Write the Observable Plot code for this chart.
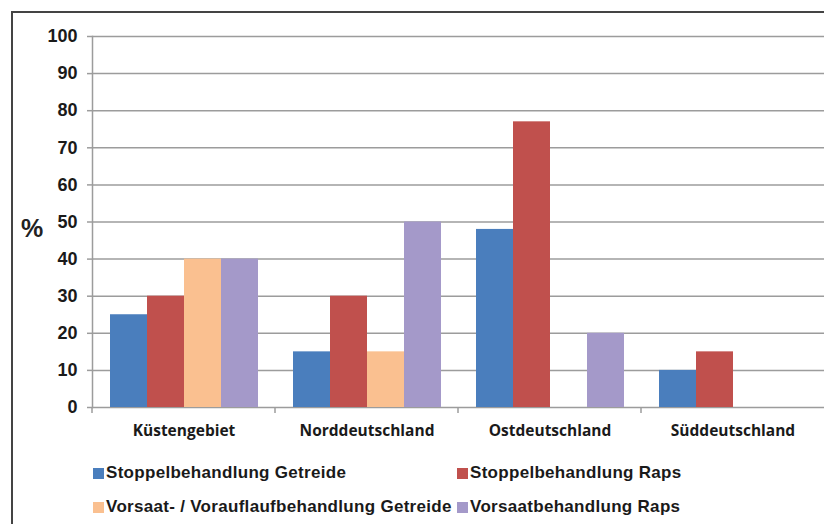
<!DOCTYPE html>
<html>
<head>
<meta charset="utf-8">
<script src="https://cdn.jsdelivr.net/npm/d3@7"></script>
<script src="https://cdn.jsdelivr.net/npm/@observablehq/plot@0.6"></script>
<style>
  html, body { margin: 0; padding: 0; background: #fff; }
  body { width: 824px; height: 524px; position: relative; overflow: hidden; font-family: "Liberation Sans", Arial, sans-serif; }
  #border { position: absolute; left: 11px; top: 11px; width: 900px; height: 600px; border-left: 2px solid #444; border-top: 2px solid #444; }
  #chart { position: absolute; left: 0; top: 0; }
  #pct { position: absolute; left: 21px; top: 214px; font: bold 25px "Liberation Sans", Arial, sans-serif; color: #222; }
  #legend { position: absolute; left: 93px; top: 462px; display: grid; grid-template-columns: 364px auto; row-gap: 12px; }
  .item { display: flex; align-items: center; height: 22px; font: bold 17px "Liberation Sans", Arial, sans-serif; letter-spacing: 0.3px; color: #1a1a1a; white-space: nowrap; }
  .sw { width: 11px; height: 11px; margin-right: 2px; flex: none; }
</style>
</head>
<body>
<div id="border"></div>
<div id="chart"></div>
<div id="pct">%</div>
<div id="legend"></div>
<script>
const regions = ["Küstengebiet", "Norddeutschland", "Ostdeutschland", "Süddeutschland"];
const series = ["Stoppelbehandlung Getreide", "Stoppelbehandlung Raps", "Vorsaat- / Vorauflaufbehandlung Getreide", "Vorsaatbehandlung Raps"];
const colors = ["#4A7EBD", "#C0504D", "#FAC090", "#A499C9"];
const stoppelGetreide = [25, 15, 48, 10];
const stoppelRaps = [30, 30, 77, 15];
const vorsaatGetreide = [40, 15, null, null];
const vorsaatRaps = [40, 50, 20, null];
const yTicks = [0, 10, 20, 30, 40, 50, 60, 70, 80, 90, 100];

const valuesBySeries = [stoppelGetreide, stoppelRaps, vorsaatGetreide, vorsaatRaps];
const data = [];
regions.forEach((r, i) => series.forEach((s, j) => {
  const v = valuesBySeries[j][i];
  if (v != null) data.push({region: r, series: s, value: v});
}));

const gridColor = "#9c9c9c";

const chart = Plot.plot({
  width: 824,
  height: 450,
  marginLeft: 91,
  marginRight: 0,
  marginTop: 36,
  marginBottom: 43,
  style: {background: "transparent"},
  fx: {domain: regions, padding: 0, label: null},
  x: {domain: series, paddingInner: 0, paddingOuter: 0.43, axis: null},
  y: {domain: [0, 100], label: null},
  color: {domain: series, range: colors},
  marks: [
    Plot.gridY(yTicks, {stroke: gridColor, strokeOpacity: 1, strokeWidth: 1.5}),
    Plot.barY(data, {fx: "region", x: "series", y: "value", fill: "series"}),
    Plot.frame({anchor: "left", facetAnchor: "left", stroke: gridColor, strokeWidth: 1.5}),
    (index, scales, values, dimensions) => {
      const y0 = scales.y(0);
      const g = d3.create("svg:g");
      g.append("line")
        .attr("x1", dimensions.marginLeft).attr("x2", dimensions.marginLeft)
        .attr("y1", y0).attr("y2", y0 + 6)
        .attr("stroke", gridColor).attr("stroke-width", 1.5);
      return g.node();
    },
    Plot.axisY(yTicks, {
      tickSize: 5, tickPadding: 10, stroke: gridColor, strokeWidth: 1.5, fill: "#1a1a1a",
      fontSize: 18, fontWeight: "bold", fontFamily: "Liberation Sans, Arial, sans-serif", label: null
    }),
    Plot.axisFx({
      anchor: "bottom", tickSize: 0, tickPadding: 17, fill: "#1a1a1a",
      fontSize: 15.5, fontWeight: "bold", fontFamily: "Open Sans, sans-serif", label: null
    })
  ]
});
document.getElementById("chart").appendChild(chart);

const legend = d3.select("#legend");
series.forEach((s, j) => {
  const it = legend.append("div").attr("class", "item");
  it.append("span").attr("class", "sw").style("background", colors[j]);
  it.append("span").text(s);
});
</script>
</body>
</html>
